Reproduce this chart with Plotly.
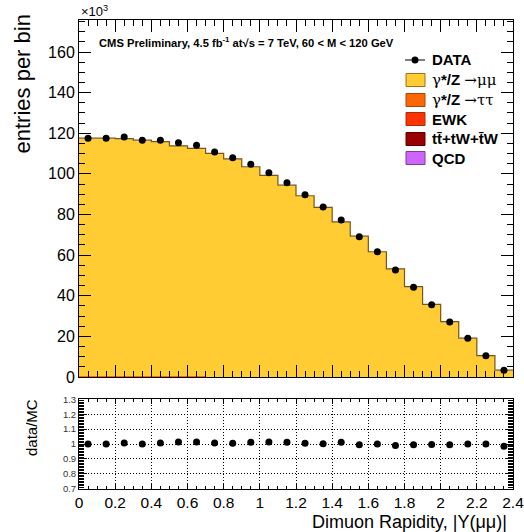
import plotly.graph_objects as go

# Dimuon rapidity, 60 < M < 120 GeV; yields in units of 10^3 entries per bin
edges = [0.0, 0.1, 0.2, 0.3, 0.4, 0.5, 0.6, 0.7, 0.8, 0.9, 1.0, 1.1, 1.2,
         1.3, 1.4, 1.5, 1.6, 1.7, 1.8, 1.9, 2.0, 2.1, 2.2, 2.3, 2.4]

data = [117.6, 117.6, 118.1, 116.6, 116.6, 115.3, 114.1, 110.8, 108.0, 104.8,
        100.5, 95.6, 89.7, 83.7, 77.3, 69.0, 61.7, 52.7, 44.2, 35.6,
        27.1, 19.1, 10.5, 3.3]

dy_mumu = [117.05, 117.05, 116.85, 116.06, 115.38, 113.30, 112.10, 109.63,
           106.95, 103.07, 98.80, 94.03, 88.88, 83.19, 76.04, 69.09, 61.43,
           53.06, 44.29, 35.62, 27.13, 19.05, 10.47, 3.34]
dy_tautau = [0.30, 0.30, 0.30, 0.29, 0.29, 0.28, 0.28, 0.27, 0.26, 0.25, 0.24,
             0.23, 0.21, 0.20, 0.18, 0.16, 0.14, 0.12, 0.10, 0.08, 0.06, 0.04,
             0.02, 0.01]
ewk = [0.12, 0.12, 0.12, 0.12, 0.11, 0.11, 0.11, 0.10, 0.10, 0.10, 0.09, 0.09,
       0.08, 0.08, 0.07, 0.06, 0.05, 0.05, 0.04, 0.03, 0.02, 0.02, 0.01, 0.00]
top = [0.10, 0.10, 0.10, 0.10, 0.09, 0.09, 0.09, 0.08, 0.08, 0.07, 0.07, 0.06,
       0.05, 0.05, 0.04, 0.03, 0.03, 0.02, 0.02, 0.01, 0.01, 0.00, 0.00, 0.00]
qcd = [0.03, 0.03, 0.03, 0.03, 0.03, 0.03, 0.02, 0.02, 0.02, 0.02, 0.02, 0.02,
       0.02, 0.01, 0.01, 0.01, 0.01, 0.01, 0.01, 0.00, 0.00, 0.00, 0.00, 0.00]

x_ticks = [0, 0.2, 0.4, 0.6, 0.8, 1.0, 1.2, 1.4, 1.6, 1.8, 2.0, 2.2, 2.4]
x_ticktext = ["0", "0.2", "0.4", "0.6", "0.8", "1", "1.2", "1.4", "1.6",
              "1.8", "2", "2.2", "2.4"]
ratio_ticks = [0.7, 0.8, 0.9, 1.0, 1.1, 1.2, 1.3]
ratio_ticktext = ["0.7", "0.8", "0.9", "1", "1.1", "1.2", "1.3"]

W, H = 524, 532
X_MAX = 2.4


def fx(x):
    return x / W


def fy(y):
    return 1 - y / H


centers = [(a + b) / 2 for a, b in zip(edges[:-1], edges[1:])]
widths = [b - a for a, b in zip(edges[:-1], edges[1:])]
mc_total = [a + b + c + d + e for a, b, c, d, e in
            zip(qcd, top, ewk, dy_tautau, dy_mumu)]
ratio = [d / m for d, m in zip(data, mc_total)]
# keep the label at the very end of the axis inside the range
x_tickpos = [min(t, X_MAX - 1e-6) for t in x_ticks]

FONT = "Liberation Sans, Arial, Helvetica, sans-serif"
SERIF = "DejaVu Serif"

# stack, bottom to top
stack = [
    ("QCD", qcd, "#CC66FF"),
    ("ttbar", top, "#990000"),
    ("EWK", ewk, "#FF3300"),
    ("tautau", dy_tautau, "#FF6600"),
    ("mumu", dy_mumu, "#FFCC33"),
]

fig = go.Figure()
for name, vals, col in stack:
    fig.add_trace(go.Bar(x=centers, y=vals, width=widths, name=name,
                         marker=dict(color=col, line=dict(width=0)),
                         xaxis="x", yaxis="y", showlegend=False))

# outline of the stacked MC
fig.add_trace(go.Scatter(x=edges, y=mc_total + [mc_total[-1]], mode="lines",
                         line=dict(shape="hv", color="#7a5418", width=1.2),
                         xaxis="x", yaxis="y", showlegend=False))

fig.add_trace(go.Scatter(x=centers, y=data, mode="markers",
                         marker=dict(color="black", size=7),
                         xaxis="x", yaxis="y", showlegend=False))

fig.add_trace(go.Scatter(x=centers, y=ratio, mode="markers",
                         marker=dict(color="black", size=7),
                         xaxis="x2", yaxis="y2", showlegend=False))

x_dom = [fx(79), fx(513)]
axis_common = dict(showline=True, linecolor="black", linewidth=1,
                   mirror="allticks", zeroline=False, automargin=False,
                   tickcolor="black", ticks="inside")
DOTS = "1px,2px"

fig.update_layout(
    width=W, height=H,
    margin=dict(l=0, r=0, t=0, b=0),
    template="none",
    paper_bgcolor="white", plot_bgcolor="white",
    barmode="stack", bargap=0,
    font=dict(family=FONT, color="black"),
    xaxis=dict(domain=x_dom, range=[0, X_MAX], anchor="y",
               tickvals=x_tickpos, showticklabels=False, ticklen=12,
               minor=dict(ticks="inside", dtick=0.05, tick0=0, ticklen=6,
                          tickcolor="black"),
               showgrid=False, **axis_common),
    yaxis=dict(domain=[fy(377), fy(19.5)], range=[0, 176], anchor="x",
               dtick=20, tick0=0, ticklen=12,
               tickfont=dict(size=16, family=FONT),
               minor=dict(ticks="inside", dtick=5, tick0=0, ticklen=6,
                          tickcolor="black"),
               showgrid=False, **axis_common),
    xaxis2=dict(domain=x_dom, range=[0, X_MAX], anchor="y2",
                tickvals=x_tickpos, ticktext=x_ticktext, ticklen=5,
                tickfont=dict(size=15.5, family=FONT),
                ticklabeloverflow="allow",
                minor=dict(ticks="inside", dtick=0.05, tick0=0, ticklen=3,
                           tickcolor="black"),
                showgrid=True, gridcolor="black", griddash=DOTS,
                gridwidth=1, **axis_common),
    yaxis2=dict(domain=[fy(488.7), fy(399.3)], range=[0.7, 1.3],
                anchor="x2", tickvals=ratio_ticks, ticktext=ratio_ticktext,
                ticklen=8, tickfont=dict(size=9.5, family=FONT, color="#333"),
                ticklabeloverflow="allow",
                minor=dict(ticks="inside", dtick=0.01, tick0=0.7, ticklen=5,
                           tickcolor="black"),
                showgrid=True, gridcolor="black", griddash=DOTS,
                gridwidth=1, **axis_common),
)

annotations = [
    dict(text="entries per bin", textangle=-90, x=fx(22), y=fy(13),
         xanchor="center", yanchor="top", font=dict(size=22)),
    dict(text="data/MC", textangle=-90, x=fx(31), y=fy(428),
         xanchor="center", yanchor="middle", font=dict(size=15)),
    dict(text="Dimuon Rapidity, |Y(μμ)|", x=fx(509), y=fy(521.5),
         xanchor="right", yanchor="middle", font=dict(size=18)),
    dict(text="×10<sup>3</sup>", x=fx(79), y=fy(20.5), xanchor="left",
         yanchor="bottom", font=dict(size=13)),
    dict(text="<b>CMS Preliminary, 4.5 fb<sup>-1</sup> at√s = 7 TeV, "
              "60 < M < 120 GeV</b>",
         x=fx(97), y=fy(42), xanchor="left", yanchor="middle",
         font=dict(size=11.2)),
]

legend_rows = [
    ("<b>DATA</b>", None, None, 60),
    (f'<span style="font-family:{SERIF}">γ</span><b>*/Z</b> '
     f'<span style="font-family:{SERIF}">→μμ</span>', "#FFCC33", "#a07020", 80),
    (f'<span style="font-family:{SERIF}">γ</span><b>*/Z</b> '
     f'<span style="font-family:{SERIF}">→ττ</span>', "#FF6600", "#9a4a10", 100),
    ("<b>EWK</b>", "#FF3300", "#a03010", 119),
    ("<b>tt̄+tW+t̄W</b>", "#990000", "#5a0000", 139),
    ("<b>QCD</b>", "#CC66FF", "#7a3d99", 158),
]

shapes = []
for label, fill, edge, yc in legend_rows:
    annotations.append(dict(text=label, x=fx(430), y=fy(yc), xanchor="left",
                            yanchor="middle", font=dict(size=15)))
    if fill is None:
        shapes.append(dict(type="line", xref="paper", yref="paper",
                           x0=fx(405), x1=fx(425), y0=fy(yc), y1=fy(yc),
                           line=dict(color="black", width=1)))
        shapes.append(dict(type="circle", xref="paper", yref="paper",
                           x0=fx(411.5), x1=fx(418.5), y0=fy(yc + 3.5),
                           y1=fy(yc - 3.5), fillcolor="black",
                           line=dict(color="black", width=0)))
    else:
        shapes.append(dict(type="rect", xref="paper", yref="paper",
                           x0=fx(406), x1=fx(425), y0=fy(yc + 6.5),
                           y1=fy(yc - 6.5), fillcolor=fill,
                           line=dict(color=edge, width=1)))

for a in annotations:
    a.setdefault("xref", "paper")
    a.setdefault("yref", "paper")
    a.setdefault("showarrow", False)

fig.update_layout(annotations=annotations, shapes=shapes)

fig.write_html("out.html")
